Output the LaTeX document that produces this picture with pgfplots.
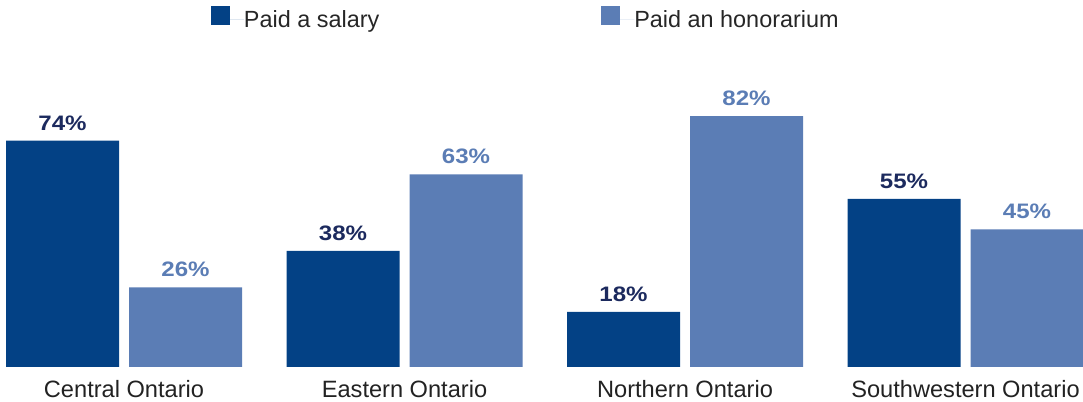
\documentclass[border=0pt]{standalone}
\usepackage{pgfplots}
\pgfplotsset{compat=1.18}
\usepackage{fontspec}
\setmainfont{Liberation Sans}
\newfontfamily\valfont[FakeStretch=1.15]{Liberation Sans}
\definecolor{salary}{HTML}{034185}
\definecolor{honor}{HTML}{5B7DB5}
\definecolor{salarytxt}{HTML}{1C2A5E}
\definecolor{cattxt}{HTML}{222222}
\begin{document}
\begin{tikzpicture}
\begin{axis}[
  scale only axis, width=1083bp, height=367bp,
  xmin=-0.44207, xmax=3.41889, ymin=0, ymax=120,
  ybar=10bp, bar width=113bp,
  axis line style={draw=none}, ytick=\empty,
  xtick={0,1,2,3}, major tick length=0pt,
  xticklabels={Central Ontario, Eastern Ontario, Northern Ontario, Southwestern Ontario},
  xticklabel style={font=\fontsize{23.7}{28}\selectfont, text=cattxt, anchor=base, inner sep=0pt, yshift=-30.7bp},
  nodes near coords={\pgfmathprintnumber{\pgfplotspointmeta}\%},
  nodes near coords style={font=\valfont\bfseries\fontsize{21}{25}\selectfont, anchor=base, inner sep=0pt, yshift=10.5bp},
  /pgf/number format/assume math mode=true,
  legend columns=2,
  legend image code/.code={\fill[#1] (0bp,-6bp) rectangle (19bp,13bp); \path (0bp,0bp) -- (33bp,0bp);},
  legend style={draw=none, fill=none, inner sep=0pt, outer sep=0pt,
    at={(axis description cs:0,1)}, anchor=north west, xshift=211bp, yshift=-6.5bp,
    font=\fontsize{23.5}{28}\selectfont, text=black!85,
    nodes={inner sep=0pt},
    /tikz/every even column/.append style={column sep=222bp}},
]
\addplot[fill=salary, draw=none, nodes near coords style={text=salarytxt}]
  coordinates {(0,74) (1,38) (2,18) (3,55)};
\addlegendentry{Paid a salary}
\addplot[fill=honor, draw=none, nodes near coords style={text=honor}]
  coordinates {(0,26) (1,63) (2,82) (3,45)};
\addlegendentry{Paid an honorarium}
\end{axis}
\pgfresetboundingbox
\useasboundingbox (current axis.south west) ++(0,-35bp) rectangle (current axis.north east);
\end{tikzpicture}
\end{document}
